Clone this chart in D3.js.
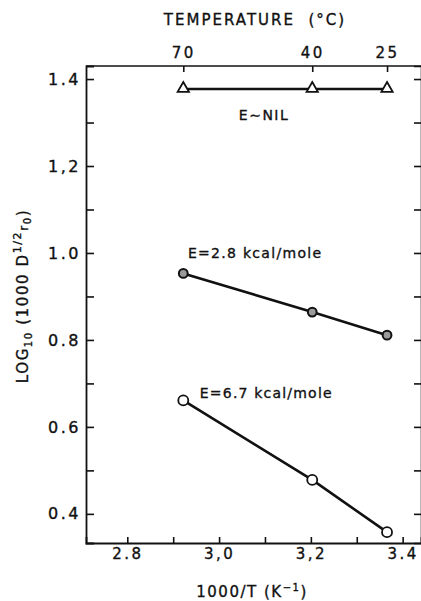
<!DOCTYPE html>
<html>
<head>
<meta charset="utf-8">
<script src="https://cdn.jsdelivr.net/npm/d3@7"></script>
<style>
  html, body { margin: 0; padding: 0; background: #fff; }
  svg { display: block; }
  text { font-family: "DejaVu Sans", sans-serif; fill: #111; stroke: #111; stroke-width: 0.35px; }
</style>
</head>
<body>
<svg id="chart" width="421" height="601"></svg>
<script>
// ---- data ----
const invT = [2.922, 3.203, 3.366];          // 1000/T (K^-1)
const tempLabels = ["70", "40", "25"];        // temperature (°C) for top axis
const seriesNil = [1.377, 1.377, 1.377];      // E ~ NIL (triangles)
const series28 = [0.953, 0.864, 0.811];       // E = 2.8 kcal/mole (gray circles)
const series67 = [0.661, 0.478, 0.358];       // E = 6.7 kcal/mole (open circles)
const xTicksMajor = [2.8, 3.0, 3.2, 3.4];
const xTicksAll = [2.8, 2.9, 3.0, 3.1, 3.2, 3.3, 3.4];
const yTicksMajor = [0.4, 0.6, 0.8, 1.0, 1.2, 1.4];
const yTicksAll = [0.4, 0.5, 0.6, 0.7, 0.8, 0.9, 1.0, 1.1, 1.2, 1.3, 1.4];

const svg = d3.select("#chart");
const L = 86, R = 421, T = 66, B = 543;
const x = d3.scaleLinear().domain([2.71, 3.44]).range([L, R]);
const y = d3.scaleLinear().domain([0.333, 1.43]).range([B, T]);

const fmt = d3.format(".1f");
const isMajor = (arr, v) => arr.some(m => Math.abs(m - v) < 1e-9);
const yFmt = v => !isMajor(yTicksMajor, v) ? "" : (Math.abs(v - 1.2) < 1e-9 ? "1,2" : fmt(v));
const xFmt = v => !isMajor(xTicksMajor, v) ? "" : ((Math.abs(v - 3.0) < 1e-9 || Math.abs(v - 3.2) < 1e-9) ? fmt(v).replace(".", ",") : fmt(v));

// frame top
svg.append("line").attr("x1", L).attr("x2", R).attr("y1", T).attr("y2", T)
  .attr("stroke", "#111").attr("stroke-width", 1.6);

// left axis
const gL = svg.append("g").attr("transform", `translate(${L},0)`)
  .call(d3.axisLeft(y).tickValues(yTicksAll).tickSize(-8).tickPadding(5).tickFormat(yFmt));
gL.select(".domain").attr("stroke", "#111").attr("stroke-width", 1.8);
gL.selectAll(".tick line").attr("stroke", "#111").attr("stroke-width", 1.6);
gL.selectAll(".tick text").style("font-size", "16px").style("letter-spacing", "2.5px")
  .style("font-family", "'DejaVu Sans', sans-serif").attr("fill", "#111");

// right axis (ticks only, frame line at image edge)
const gR = svg.append("g").attr("transform", `translate(${R},0)`)
  .call(d3.axisRight(y).tickValues(yTicksAll).tickSize(-7).tickFormat(""));
gR.select(".domain").attr("stroke", "#111").attr("stroke-width", 1.6);
gR.selectAll(".tick line").attr("stroke", "#111").attr("stroke-width", 1.6);

// bottom axis
const gB = svg.append("g").attr("transform", `translate(0,${B})`)
  .call(d3.axisBottom(x).tickValues(xTicksAll).tickSize(-6).tickPadding(5).tickFormat(xFmt));
gB.select(".domain").attr("stroke", "#111").attr("stroke-width", 1.8);
gB.selectAll(".tick line").attr("stroke", "#111").attr("stroke-width", 1.6);
gB.selectAll(".tick text").style("font-size", "15px").style("letter-spacing", "2.5px")
  .style("font-family", "'DejaVu Sans', sans-serif").attr("fill", "#111");

// top axis (temperature)
const xTop = d3.scaleOrdinal().domain(tempLabels).range(invT.map(v => x(v)));
const gT = svg.append("g").attr("transform", `translate(0,${T})`)
  .call(d3.axisTop(xTop).tickSize(-6).tickPadding(8));
gT.select(".domain").remove();
gT.selectAll(".tick line").attr("stroke", "#111").attr("stroke-width", 1.6);
gT.selectAll(".tick text").style("font-size", "15px").style("letter-spacing", "2.5px")
  .style("font-family", "'DejaVu Sans', sans-serif").attr("fill", "#111");

// lines
const lineGen = d3.line().x((d, i) => x(invT[i])).y(d => y(d));
[seriesNil, series28, series67].forEach(s => {
  svg.append("path").datum(s).attr("d", lineGen)
    .attr("fill", "none").attr("stroke", "#111").attr("stroke-width", 2.6);
});

// markers
svg.selectAll(".tri").data(seriesNil).enter().append("path")
  .attr("d", d3.symbol().type(d3.symbolTriangle).size(55))
  .attr("transform", (d, i) => `translate(${x(invT[i])},${y(d) - 0.5})`)
  .attr("fill", "#fff").attr("stroke", "#111").attr("stroke-width", 1.8);

svg.selectAll(".c28").data(series28).enter().append("circle")
  .attr("cx", (d, i) => x(invT[i])).attr("cy", d => y(d)).attr("r", 4.4)
  .attr("fill", "#9a9a9a").attr("stroke", "#111").attr("stroke-width", 2);

svg.selectAll(".c67").data(series67).enter().append("circle")
  .attr("cx", (d, i) => x(invT[i])).attr("cy", d => y(d)).attr("r", 5)
  .attr("fill", "#fff").attr("stroke", "#111").attr("stroke-width", 1.8);

// annotations
svg.append("text").attr("x", x(3.098)).attr("y", y(1.306)).attr("text-anchor", "middle")
  .style("font-size", "14px").style("letter-spacing", "1.5px").text("E∼NIL");
svg.append("text").attr("x", x(2.932)).attr("y", y(0.988))
  .style("font-size", "14px").style("letter-spacing", "1.3px").text("E=2.8 kcal/mole");
svg.append("text").attr("x", x(2.958)).attr("y", y(0.666))
  .style("font-size", "14px").style("letter-spacing", "1.2px").text("E=6.7 kcal/mole");

// titles
svg.append("text").attr("x", 255).attr("y", 25).attr("text-anchor", "middle")
  .attr("xml:space", "preserve").style("white-space", "pre")
  .style("font-size", "15px").style("letter-spacing", "2px").text("TEMPERATURE  (°C)");

const xl = svg.append("text").attr("x", 252).attr("y", 597).attr("text-anchor", "middle")
  .style("font-size", "15px").style("letter-spacing", "1.5px");
xl.append("tspan").text("1000/T (K");
xl.append("tspan").attr("dy", -6).style("font-size", "10px").text("−1");
xl.append("tspan").attr("dy", 6).text(")");

const yl = svg.append("text").attr("transform", "translate(28,296) rotate(-90)")
  .attr("text-anchor", "middle").style("font-size", "15px").style("letter-spacing", "1.6px");
yl.append("tspan").text("LOG");
yl.append("tspan").attr("dy", 4).style("font-size", "10px").text("10");
yl.append("tspan").attr("dy", -4).text(" (1000 D");
yl.append("tspan").attr("dy", -7).style("font-size", "11px").text("1/2");
yl.append("tspan").attr("dy", 7).style("font-size", "12px").text("r");
yl.append("tspan").attr("dy", 3).style("font-size", "10px").text("0");
yl.append("tspan").attr("dy", -3).text(")");
</script>
</body>
</html>
